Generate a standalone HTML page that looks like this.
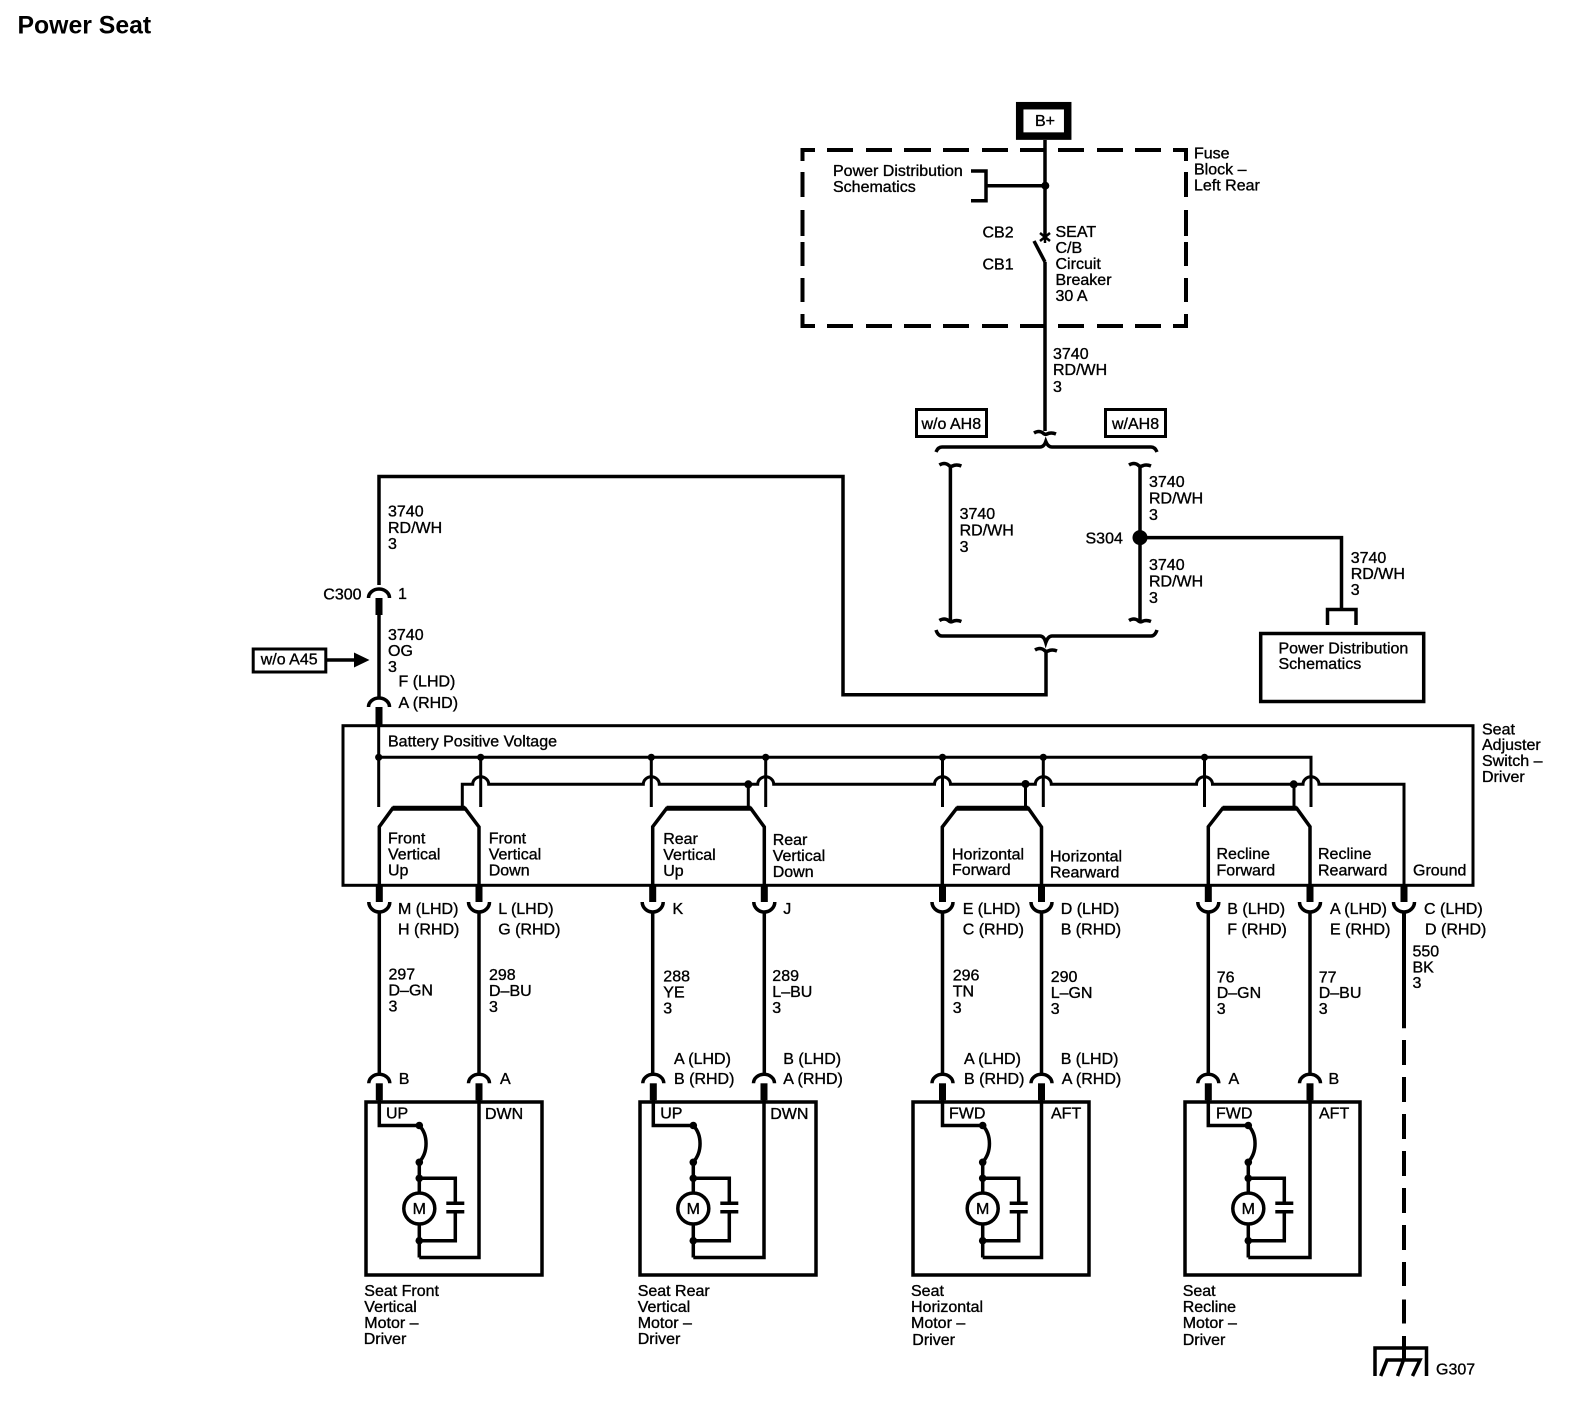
<!DOCTYPE html>
<html lang="en">
<head>
<meta charset="utf-8">
<title>Power Seat</title>
<style>
html,body{margin:0;padding:0;background:#fff}
svg{display:block}
text{font-family:"Liberation Sans",Arial,sans-serif;font-size:16px;fill:#000;stroke:#000;stroke-width:.35px}
.w{fill:none;stroke:#000;stroke-width:3.5}
.t{fill:none;stroke:#000;stroke-width:3}
.f{fill:#000}
</style>
</head>
<body>
<svg width="1580" height="1408" viewBox="0 0 1580 1408" xmlns="http://www.w3.org/2000/svg">
<defs>
  <g id="cu"><path class="w" d="M-10.5 0 A10.5 9 0 0 1 10.5 0"/><rect class="f" x="-3.5" y="0" width="7" height="17"/></g>
  <g id="cd"><path class="w" d="M-10.5 0 A10.5 10 0 0 0 10.5 0"/><rect class="f" x="-3.5" y="-17" width="7" height="17"/></g>
  <path id="tl" class="w" d="M-11 0 Q-6 -3 -2 0 Q0 2 2 1 Q6 -1 11 1"/>
  <g id="mot">
    <path class="w" d="M0 1125.5 C9 1135 9 1152 0 1162 V1193"/>
    <circle class="f" cx="0" cy="1125.5" r="3.8"/>
    <circle class="f" cx="0" cy="1162.3" r="3.8"/>
    <circle class="f" cx="0" cy="1178.3" r="3.8"/>
    <circle class="f" cx="0" cy="1240.7" r="3.8"/>
    <path class="w" d="M0 1178.3 H36 V1203.3 M27 1203.3 H45 M27 1211.7 H45 M36 1211.7 V1240.7 H0 M0 1224 V1257.5"/>
    <circle class="w" cx="0" cy="1208.5" r="15.5" style="stroke-width:3.5"/>
    <text x="0" y="1214" text-anchor="middle">M</text>
  </g>
</defs>

<text x="17.5" y="33.3" style="font-size:24.8px;font-weight:bold;stroke:none">Power Seat</text>

<!-- B+ -->
<rect x="1019.7" y="105.7" width="48" height="30.4" fill="none" stroke="#000" stroke-width="7.5"/>
<text x="1035" y="126">B+</text>

<!-- Fuse block dashed box -->
<path d="M802.5 172 V197 M802.5 210 V236 M802.5 242 V266 M802.5 278 V302 M1186 172 V197 M1186 210 V236 M1186 242 V266 M1186 278 V302 M802.5 161 V150 H815 M827 150 H853 M866 150 H892 M904 150 H931 M943 150 H969 M982 150 H1008 M1020 150 H1045 M1058 150 H1084 M1097 150 H1123 M1135 150 H1161 M1173 150 H1186 V161 M1186 314 V326 H1173 M1161 326 H1135 M1123 326 H1097 M1084 326 H1058 M1045 326 H1020 M1008 326 H982 M969 326 H943 M931 326 H904 M892 326 H866 M853 326 H827 M815 326 H802.5 V314" fill="none" stroke="#000" stroke-width="4"/>

<path class="w" d="M1045 140 V236 M1045 262 V431"/>
<path class="w" d="M1034 241 L1045 262" />
<path d="M1040 233 L1050 241 M1050 233 L1040 241 M1045 231 V243" fill="none" stroke="#000" stroke-width="2.5"/>
<circle class="f" cx="1045.3" cy="185.7" r="4"/>
<path class="w" d="M971 171 H986 V200.7 H971 M986 185.7 H1045"/>

<text x="833" y="176">Power Distribution</text>
<text x="833" y="192">Schematics</text>
<text x="1194" y="158.5">Fuse</text>
<text x="1194" y="174.5">Block –</text>
<text x="1194" y="190.5">Left Rear</text>
<text x="982.5" y="237.5">CB2</text>
<text x="982.5" y="269.5">CB1</text>
<text x="1055.5" y="237">SEAT</text>
<text x="1055.5" y="253">C/B</text>
<text x="1055.5" y="269">Circuit</text>
<text x="1055.5" y="285">Breaker</text>
<text x="1055.5" y="301">30 A</text>
<text x="1053" y="359">3740</text>
<text x="1053" y="375">RD/WH</text>
<text x="1053" y="392">3</text>

<rect x="916.5" y="409.5" width="70" height="27" class="t"/>
<text x="921.5" y="429">w/o AH8</text>
<rect x="1105.5" y="409.5" width="60" height="27" class="t"/>
<text x="1112" y="429">w/AH8</text>

<use href="#tl" x="1045" y="433"/>
<path class="w" d="M936 452 Q938 447 942 447 H1040 Q1044 447 1045.8 441.5 Q1048 447 1052 447 H1151 Q1155 447 1157 452"/>
<path class="w" d="M936 630 Q938 636 942 636 H1040 Q1044 636 1045.8 642.5 Q1048 636 1052 636 H1151 Q1155 636 1157 630"/>
<path class="w" d="M950.4 465 V620.5 M1140 465 V620.5"/>
<use href="#tl" x="950.4" y="465"/>
<use href="#tl" x="1140" y="465"/>
<use href="#tl" x="950.4" y="620.5"/>
<use href="#tl" x="1140" y="620.5"/>
<use href="#tl" x="1046" y="650"/>
<circle class="f" cx="1140" cy="537.6" r="7.5"/>
<text x="1085.5" y="543.5">S304</text>
<text x="959.6" y="519">3740</text><text x="959.6" y="535.5">RD/WH</text><text x="959.6" y="552">3</text>
<text x="1149" y="487">3740</text><text x="1149" y="503.5">RD/WH</text><text x="1149" y="520">3</text>
<text x="1149" y="570">3740</text><text x="1149" y="586.5">RD/WH</text><text x="1149" y="603">3</text>
<text x="1350.7" y="563">3740</text><text x="1350.7" y="579">RD/WH</text><text x="1350.7" y="595">3</text>
<path class="w" d="M1140 537.6 H1341.5 V609"/>
<path class="w" d="M1327.5 625 V609.5 H1356 V625"/>
<rect x="1260.7" y="633.5" width="163" height="68" class="w"/>
<text x="1278.5" y="653.5">Power Distribution</text>
<text x="1278.5" y="669">Schematics</text>

<!-- long run to C300 -->
<path class="w" d="M1046 650 V694.7 H843 V476.5 H379 V585"/>
<text x="388" y="516.7">3740</text><text x="388" y="533">RD/WH</text><text x="388" y="549">3</text>
<use href="#cu" x="379" y="598"/>
<text x="323.3" y="599.3">C300</text>
<text x="398" y="599">1</text>
<path class="w" d="M379 612 V697"/>
<text x="388" y="640">3740</text><text x="388" y="656">OG</text><text x="388" y="672">3</text>
<rect x="253.2" y="649" width="72.6" height="23" class="t"/>
<text x="260.7" y="664.5">w/o A45</text>
<path class="w" d="M327 660 H356"/>
<path class="f" d="M354 652.5 L369.5 660 L354 667.5 Z"/>
<text x="398.5" y="686.7">F (LHD)</text>
<text x="398.5" y="708">A (RHD)</text>
<use href="#cu" x="379" y="707"/>
<rect x="375.5" y="707" width="7" height="20" class="f"/>

<!-- Switch box -->
<rect x="343" y="725.7" width="1130" height="159.6" class="t"/>
<text x="388" y="746.7">Battery Positive Voltage</text>
<text x="1482" y="734.3">Seat</text><text x="1482" y="750">Adjuster</text><text x="1482" y="766">Switch –</text><text x="1482" y="782">Driver</text>

<!-- Buses -->
<path class="t" d="M378.7 727 V807 M378.7 757.3 H1311 V807 M480.7 757.3 V807 M651.3 757.3 V807 M765.7 757.3 V807 M942.5 757.3 V807 M1043.3 757.3 V807 M1204.5 757.3 V807"/>
<g class="f">
<circle cx="378.7" cy="757.3" r="3.6"/><circle cx="480.7" cy="757.3" r="3.6"/><circle cx="651.3" cy="757.3" r="3.6"/><circle cx="765.7" cy="757.3" r="3.6"/><circle cx="942.5" cy="757.3" r="3.6"/><circle cx="1043.3" cy="757.3" r="3.6"/><circle cx="1204.5" cy="757.3" r="3.6"/>
<circle cx="748.3" cy="784.3" r="4"/><circle cx="1025.5" cy="784" r="4"/><circle cx="1293.7" cy="784.3" r="4"/>
</g>
<path class="t" d="M462.3 808 V784.3 H472.7 A8 7.5 0 0 1 488.7 784.3 H643.3 A8 7.5 0 0 1 659.3 784.3 H757.7 A8 7.5 0 0 1 773.7 784.3 H934.5 A8 7.5 0 0 1 950.5 784.3 H1035.3 A8 7.5 0 0 1 1051.3 784.3 H1196.5 A8 7.5 0 0 1 1212.5 784.3 H1303 A8 7.5 0 0 1 1319 784.3 H1404 V885"/>
<path class="t" d="M748.3 784 V808 M1025.5 784 V808 M1294 784 V808"/>

<!-- Trapezoids -->
<path class="w" d="M379.3 885 V826.7 L392.7 808.3 H465 L479 827 V885"/>
<path class="w" d="M652.7 885 V826.7 L666.7 808.3 H750.7 L764.3 827 V885"/>
<path class="w" d="M942.3 885 V827 L956.7 808.3 H1028.3 L1041.5 827 V885"/>
<path class="w" d="M1208.3 885 V826.7 L1222.7 808.3 H1296.7 L1310 826.7 V885"/>
<path d="M392.7 808.3 H465 M666.7 808.3 H750.7 M956.7 808.3 H1028.3 M1222.7 808.3 H1296.7" fill="none" stroke="#000" stroke-width="5"/>

<text x="388" y="843.3">Front</text><text x="388" y="859.5">Vertical</text><text x="388" y="875.5">Up</text>
<text x="488.7" y="843.3">Front</text><text x="488.7" y="859.5">Vertical</text><text x="488.7" y="875.5">Down</text>
<text x="663.2" y="844">Rear</text><text x="663.2" y="860">Vertical</text><text x="663.2" y="876">Up</text>
<text x="772.7" y="845">Rear</text><text x="772.7" y="861">Vertical</text><text x="772.7" y="877">Down</text>
<text x="952" y="859.3">Horizontal</text><text x="952" y="875">Forward</text>
<text x="1050" y="861.7">Horizontal</text><text x="1050" y="877.3">Rearward</text>
<text x="1216.5" y="859">Recline</text><text x="1216.5" y="875.5">Forward</text>
<text x="1318" y="859">Recline</text><text x="1318" y="875.5">Rearward</text>
<text x="1413" y="875.5">Ground</text>

<!-- lower cups -->
<use href="#cd" x="379.3" y="902"/><use href="#cd" x="479" y="902"/><use href="#cd" x="652.7" y="902"/><use href="#cd" x="764.3" y="902"/>
<use href="#cd" x="942.5" y="902"/><use href="#cd" x="1041.5" y="902"/><use href="#cd" x="1208.3" y="902"/><use href="#cd" x="1310" y="902"/><use href="#cd" x="1404" y="902"/>

<text x="398" y="914">M (LHD)</text><text x="398" y="934.5">H (RHD)</text>
<text x="498.2" y="914">L (LHD)</text><text x="498.2" y="934.5">G (RHD)</text>
<text x="672.5" y="914">K</text><text x="783.3" y="914">J</text>
<text x="962.7" y="914">E (LHD)</text><text x="962.7" y="934.5">C (RHD)</text>
<text x="1060.7" y="914">D (LHD)</text><text x="1060.7" y="934.5">B (RHD)</text>
<text x="1227.3" y="914">B (LHD)</text><text x="1227.3" y="934.5">F (RHD)</text>
<text x="1330" y="914">A (LHD)</text><text x="1330" y="934.5">E (RHD)</text>
<text x="1424" y="914">C (LHD)</text><text x="1425" y="934.5">D (RHD)</text>

<!-- vertical wires -->
<path class="w" d="M379.3 911 V1073 M479 911 V1073 M652.7 911 V1073 M764.3 911 V1073 M942.5 911 V1073 M1041.5 911 V1073 M1208.3 911 V1073 M1310 911 V1073"/>
<path d="M1404 911 V1028.3 M1404 1040 V1065 M1404 1077 V1102 M1404 1114 V1139 M1404 1151 V1176 M1404 1188 V1213 M1404 1225 V1250 M1404 1262 V1286 M1404 1299.5 V1323.5 M1404 1336 V1360" fill="none" stroke="#000" stroke-width="4"/>

<text x="388.5" y="979.5">297</text><text x="388.5" y="995.5">D–GN</text><text x="388.5" y="1011.5">3</text>
<text x="489" y="980">298</text><text x="489" y="996">D–BU</text><text x="489" y="1012">3</text>
<text x="663.3" y="981.7">288</text><text x="663.3" y="997.7">YE</text><text x="663.3" y="1013.7">3</text>
<text x="772.3" y="981">289</text><text x="772.3" y="997">L–BU</text><text x="772.3" y="1013">3</text>
<text x="952.7" y="980.7">296</text><text x="952.7" y="996.5">TN</text><text x="952.7" y="1013">3</text>
<text x="1050.7" y="982">290</text><text x="1050.7" y="998">L–GN</text><text x="1050.7" y="1014">3</text>
<text x="1216.7" y="982.3">76</text><text x="1216.7" y="998">D–GN</text><text x="1216.7" y="1014">3</text>
<text x="1318.7" y="982.3">77</text><text x="1318.7" y="998">D–BU</text><text x="1318.7" y="1014">3</text>
<text x="1412.5" y="956.7">550</text><text x="1412.5" y="972.7">BK</text><text x="1412.5" y="988">3</text>

<!-- upper connector cups -->
<use href="#cu" x="379.3" y="1083.3"/><use href="#cu" x="479" y="1083.3"/><use href="#cu" x="653.3" y="1083.3"/><use href="#cu" x="764" y="1083.3"/>
<use href="#cu" x="942.5" y="1083.3"/><use href="#cu" x="1041.5" y="1083.3"/><use href="#cu" x="1208.3" y="1083.3"/><use href="#cu" x="1310" y="1083.3"/>

<text x="398.7" y="1084">B</text><text x="500" y="1084">A</text>
<text x="674" y="1064">A (LHD)</text><text x="674" y="1084">B (RHD)</text>
<text x="783.3" y="1064">B (LHD)</text><text x="783.3" y="1084">A (RHD)</text>
<text x="964" y="1064">A (LHD)</text><text x="964" y="1084">B (RHD)</text>
<text x="1060.7" y="1064">B (LHD)</text><text x="1061.7" y="1084">A (RHD)</text>
<text x="1228.5" y="1084">A</text><text x="1328.5" y="1084">B</text>

<!-- Motor boxes -->
<rect x="366" y="1102" width="176" height="173" class="w"/>
<rect x="640" y="1102" width="176" height="173" class="w"/>
<rect x="913" y="1102" width="176" height="173" class="w"/>
<rect x="1185" y="1102" width="175" height="173" class="w"/>

<path class="w" d="M379.3 1100 V1125.5 H419.3 M419.3 1257.5 H479 V1100"/>
<path class="w" d="M653.3 1100 V1125.5 H693.3 M693.3 1257.5 H764 V1100"/>
<path class="w" d="M942.5 1100 V1125.5 H982.7 M982.7 1257.5 H1041.5 V1100"/>
<path class="w" d="M1208.3 1100 V1125.5 H1248.3 M1248.3 1257.5 H1310 V1100"/>
<use href="#mot" x="419.3"/><use href="#mot" x="693.3"/><use href="#mot" x="982.7"/><use href="#mot" x="1248.3"/>

<text x="386" y="1118.3">UP</text><text x="485" y="1119">DWN</text>
<text x="660.2" y="1118.3">UP</text><text x="770.2" y="1119">DWN</text>
<text x="949" y="1118.3">FWD</text><text x="1051" y="1118.3">AFT</text>
<text x="1216" y="1118.3">FWD</text><text x="1319" y="1118.3">AFT</text>

<text x="364.3" y="1296">Seat Front</text><text x="364.3" y="1312">Vertical</text><text x="364.3" y="1328">Motor –</text><text x="363.7" y="1344">Driver</text>
<text x="637.7" y="1296">Seat Rear</text><text x="637.7" y="1312">Vertical</text><text x="637.7" y="1328">Motor –</text><text x="637.7" y="1344">Driver</text>
<text x="911" y="1296">Seat</text><text x="911" y="1312">Horizontal</text><text x="911" y="1328">Motor –</text><text x="912.3" y="1345">Driver</text>
<text x="1182.7" y="1296">Seat</text><text x="1182.7" y="1312">Recline</text><text x="1182.7" y="1328">Motor –</text><text x="1182.7" y="1345">Driver</text>

<!-- Ground -->
<path class="w" d="M1375 1376 V1348 H1426.5 V1376"/>
<path class="w" d="M1380.7 1376 L1387 1360 H1420 L1412.5 1376 M1403.5 1360 L1397.5 1376"/>
<text x="1436" y="1374.3">G307</text>
</svg>
</body>
</html>
